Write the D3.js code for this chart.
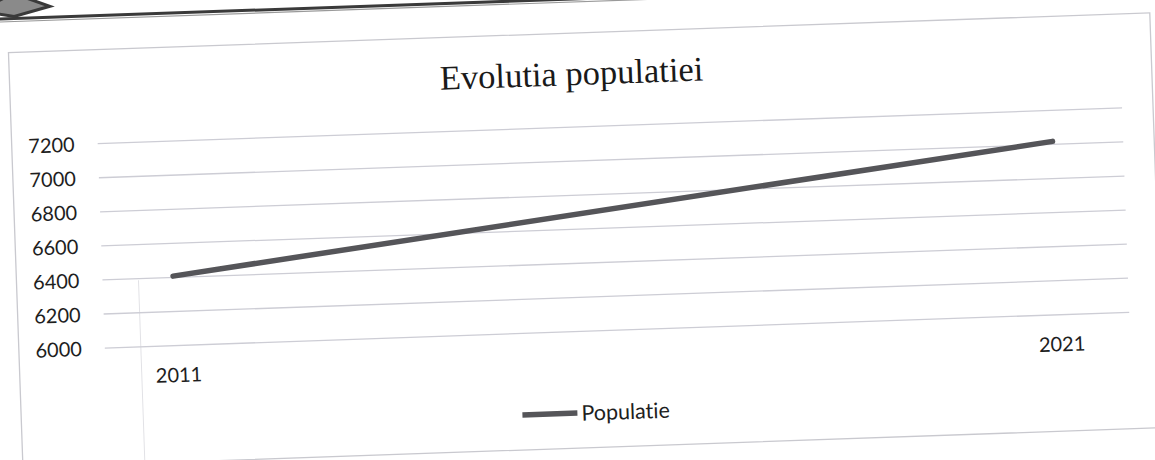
<!DOCTYPE html>
<html>
<head>
<meta charset="utf-8">
<script src="https://cdn.jsdelivr.net/npm/d3@7"></script>
<style>
  html, body { margin: 0; padding: 0; background: #ffffff; }
  svg { display: block; }
  text { font-variant-ligatures: none; font-feature-settings: "liga" 0, "clig" 0, "dlig" 0; }
</style>
</head>
<body>
<svg id="chart" width="1155" height="460"></svg>
<script>
// ---- data ----
const title = "Evolutia populatiei";
const seriesName = "Populatie";
const categories = ["2011", "2021"];
const values = [6405, 7015];
const yTicks = [6000, 6200, 6400, 6600, 6800, 7000, 7200];

// ---- layout ----
const W = 1155, H = 460;
const plot = { left: 101, right: 1126, top: 126.5, bottom: 331 };
const labelFont = "Lato, 'Open Sans', sans-serif";

const svg = d3.select("#chart");
svg.append("rect").attr("width", W).attr("height", H).attr("fill", "#ffffff");

// whole scanned sheet is slightly tilted
const g = svg.append("g").attr("transform", "rotate(-2, 577, 230)");

// page header line + icon
g.append("line").attr("x1", -40).attr("x2", 1250).attr("y1", -1).attr("y2", -1)
  .attr("stroke", "#3a3a3a").attr("stroke-width", 3);
g.append("line").attr("x1", -40).attr("x2", 1250).attr("y1", 2).attr("y2", 2)
  .attr("stroke", "#9a9a9a").attr("stroke-width", 1.2);
g.append("path").attr("d", "M-14,-10 L22,-3 L58,-12 L22,-26 Z")
  .attr("fill", "#8a8a8a").attr("stroke", "#3a3a3a").attr("stroke-width", 3);

// chart frame
g.append("rect").attr("x", 15).attr("y", 33).attr("width", 1142).attr("height", 415)
  .attr("fill", "none").attr("stroke", "#c9c9cf").attr("stroke-width", 1.3);
// faint vertical artifact line
g.append("line").attr("x1", 137).attr("x2", 137).attr("y1", 265).attr("y2", 448)
  .attr("stroke", "#e2e2e6").attr("stroke-width", 1);

// scales
const x = d3.scalePoint().domain(categories).range([plot.left, plot.right]).padding(0.08);
const y = d3.scaleLinear().domain([6000, 7200]).range([plot.bottom, plot.top]);

// gridlines via axis
const yGrid = d3.axisLeft(y).tickValues(yTicks).tickSize(-(plot.right - plot.left)).tickFormat("");
const gg = g.append("g").attr("transform", `translate(${plot.left},0)`).call(yGrid);
gg.select(".domain").remove();
gg.selectAll("line").attr("stroke", "#cdcdd5").attr("stroke-width", 1.3);

// y axis labels
const yAx = d3.axisLeft(y).tickValues(yTicks).tickSize(0).tickPadding(0).tickFormat(d3.format("d"));
const ya = g.append("g").attr("transform", `translate(78,0)`).call(yAx);
ya.select(".domain").remove();
ya.selectAll("text").attr("font-family", labelFont).attr("font-size", 20)
  .attr("fill", "#1e1e1e").attr("dy", "0.36em");

// x axis labels
const xAx = d3.axisBottom(x).tickSize(0).tickPadding(0);
const xa = g.append("g").attr("transform", `translate(2,368)`).call(xAx);
xa.select(".domain").remove();
xa.selectAll("text").attr("font-family", labelFont).attr("font-size", 20)
  .attr("fill", "#1e1e1e").attr("dy", 0);

// line
const line = d3.line().x((d, i) => x(categories[i])).y(d => y(d));
g.append("path").datum(values).attr("d", line)
  .attr("fill", "none").attr("stroke", "#555559").attr("stroke-width", 5.5)
  .attr("stroke-linecap", "round");

// title
g.append("text").attr("x", 577).attr("y", 85).attr("text-anchor", "middle")
  .attr("font-family", "'Liberation Serif', 'Times New Roman', serif")
  .attr("font-size", 34.5).attr("fill", "#1a1a1a").text(title);

// legend
const lg = g.append("g").attr("transform", "translate(516,413)");
lg.append("line").attr("x1", 0).attr("x2", 55).attr("y1", 0).attr("y2", 0)
  .attr("stroke", "#555559").attr("stroke-width", 5.5);
lg.append("text").attr("x", 59).attr("y", 0).attr("dy", "0.36em")
  .attr("font-family", labelFont).attr("font-size", 21.5).attr("fill", "#1e1e1e").text(seriesName);
</script>
</body>
</html>
